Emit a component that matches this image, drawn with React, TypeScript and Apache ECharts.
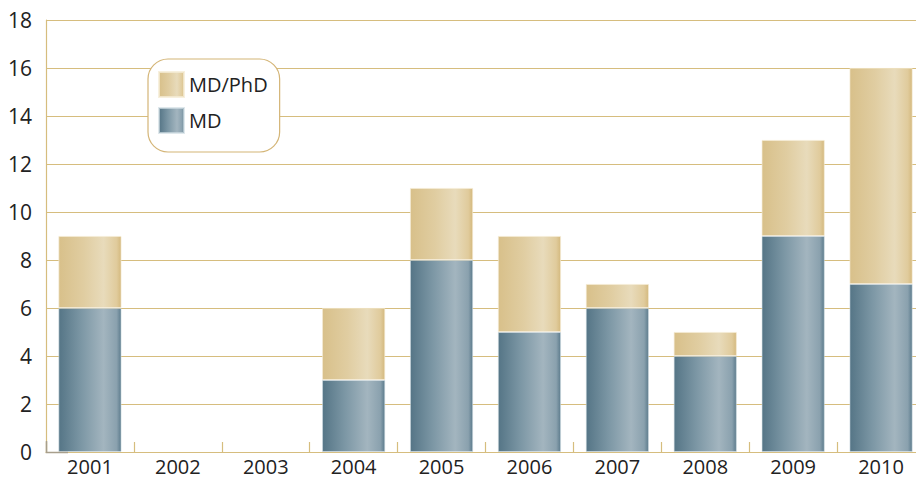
import React, { useEffect, useRef } from "react";
import * as echarts from "echarts";

// Graduates per year, split by degree programme
const years = ["2001", "2002", "2003", "2004", "2005", "2006", "2007", "2008", "2009", "2010"];
const mdValues = [6, 0, 0, 3, 8, 5, 6, 4, 9, 7];
const mdPhdValues = [3, 0, 0, 3, 3, 4, 1, 1, 4, 9];
const yTicks = { min: 0, max: 18, interval: 2 };

const FONT = "'Open Sans', 'Noto Sans', sans-serif";
const TAN = "#d6bd7e";

// years with no graduates get no bar at all (avoids a hairline border at zero)
const asBars = (values: number[]) => values.map((v) => (v === 0 ? "-" : v));

const blueFill = new echarts.graphic.LinearGradient(0, 0, 1, 0, [
  { offset: 0, color: "#557586" },
  { offset: 0.35, color: "#7b96a4" },
  { offset: 0.72, color: "#a3b5bf" },
  { offset: 0.93, color: "#8aa1ae" },
  { offset: 1, color: "#5c7b8c" },
]);

const goldFill = new echarts.graphic.LinearGradient(0, 0, 1, 0, [
  { offset: 0, color: "#d8c08a" },
  { offset: 0.4, color: "#e0cda1" },
  { offset: 0.72, color: "#e8dbbb" },
  { offset: 0.93, color: "#e0cb9c" },
  { offset: 1, color: "#d4b97e" },
]);

export default function App() {
  const ref = useRef<HTMLDivElement>(null);

  useEffect(() => {
    if (!ref.current) return;
    const chart = echarts.init(ref.current, null, { renderer: "svg" });
    chart.setOption({
      animation: false,
      textStyle: { fontFamily: FONT },
      // the plot runs slightly past the visible right edge
      grid: { left: 46, right: 0, top: 20, bottom: 26, containLabel: false },
      legend: {
        orient: "vertical",
        left: 148,
        top: 59,
        width: 133,
        data: ["MD/PhD", "MD"],
        itemWidth: 25,
        itemHeight: 25,
        itemGap: 9,
        padding: [12, 12, 18, 10],
        backgroundColor: "#ffffff",
        borderColor: "#d4b577",
        borderWidth: 1.2,
        borderRadius: 20,
        icon: "rect",
        textStyle: { fontSize: 20, color: "#222", fontFamily: FONT },
      },
      xAxis: {
        type: "category",
        data: years,
        axisLine: { show: true, lineStyle: { color: TAN, width: 1.2 } },
        axisTick: { show: true, inside: true, length: 10, lineStyle: { color: TAN, width: 1.2 } },
        axisLabel: { fontSize: 20, lineHeight: 18, color: "#222", margin: 5, fontFamily: FONT },
      },
      yAxis: {
        type: "value",
        min: yTicks.min,
        max: yTicks.max,
        interval: yTicks.interval,
        axisLine: { show: true, lineStyle: { color: TAN, width: 1.2 } },
        axisTick: { show: false },
        splitLine: { show: true, lineStyle: { color: TAN, width: 1 } },
        axisLabel: { fontSize: 21, color: "#222", margin: 14, fontFamily: FONT },
      },
      series: [
        {
          name: "MD",
          type: "bar",
          stack: "total",
          data: asBars(mdValues),
          barWidth: 63,
          itemStyle: { color: blueFill, borderColor: "rgba(210,222,228,0.7)", borderWidth: 0.8 },
        },
        {
          name: "MD/PhD",
          type: "bar",
          stack: "total",
          data: asBars(mdPhdValues),
          barWidth: 63,
          itemStyle: { color: goldFill, borderColor: "rgba(245,236,214,0.8)", borderWidth: 0.8 },
        },
      ],
      graphic: [
        {
          type: "polyline",
          shape: { points: [[46.5, 441], [46.5, 452.5], [68, 452.5]] },
          style: { stroke: "#a89f8c", lineWidth: 1.5, fill: "none" },
          z: 10,
        },
      ],
    });
    return () => chart.dispose();
  }, []);

  return (
    <div style={{ position: "fixed", left: 0, top: 0, width: 916, height: 478, overflow: "hidden", background: "#fff" }}>
      <div ref={ref} style={{ width: 925, height: 478 }} />
    </div>
  );
}
